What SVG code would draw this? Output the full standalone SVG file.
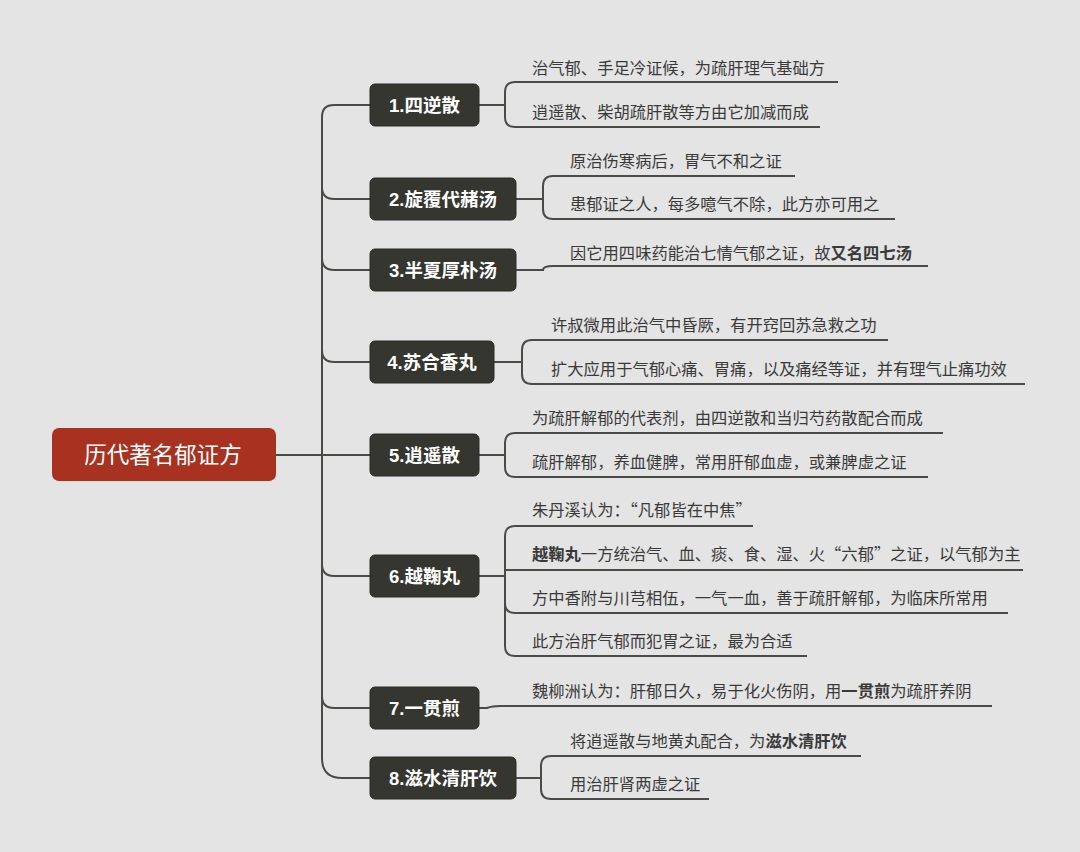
<svg xmlns="http://www.w3.org/2000/svg" width="1080" height="852" viewBox="0 0 1080 852">
<style>
.n{fill:#35362f;stroke:#2a2a25;stroke-width:1}
.nt{font-family:"Liberation Sans","Noto Sans CJK SC",sans-serif;font-weight:bold;font-size:18.5px;fill:#fff}
.lt{font-family:"Noto Sans CJK SC",sans-serif;font-size:16.3px;fill:#3a3a3a}
.c{fill:none;stroke:#4a4a46;stroke-width:2}
</style>
<rect width="1080" height="852" fill="#e4e4e4"/>
<g id="connectors" class="c">
<path d="M276 455H322"/>
<path d="M370 105H334Q322 105 322 117V758Q322 778 342 778H370"/>
<path d="M322 187Q322 199 334 199H370"/>
<path d="M322 258Q322 270 334 270H370"/>
<path d="M322 350Q322 362 334 362H370"/>
<path d="M322 455H370"/>
<path d="M322 564Q322 576 334 576H370"/>
<path d="M322 696Q322 708 334 708H370"/>
<path d="M479 105H505M838 82H515Q505 82 505 92V117Q505 127 515 127H820"/>
<path d="M516 199H543M795 176H553Q543 176 543 186V209Q543 219 553 219H895"/>
<path d="M516 270H543Q543 266 553 266H928"/>
<path d="M494 362H522M888 340H532Q522 340 522 350V374Q522 384 532 384H1025"/>
<path d="M479 455H505M943 433H515Q505 433 505 443V467Q505 477 515 477H928"/>
<path d="M479 576H505M753 526H515Q505 526 505 536V646Q505 656 515 656H807M505 570H1023M505 603Q505 613 515 613H1008"/>
<path d="M479 708H487Q492 706 500 706H992"/>
<path d="M516 778H541M861 756H551Q541 756 541 766V789Q541 799 551 799H709"/>
</g>
<g id="root"><rect x="52" y="428" width="224" height="53" rx="7" fill="#a8321f"/><text x="163" y="463" text-anchor="middle" font-family="Noto Sans CJK SC,sans-serif" font-size="22.5" fill="#fff">历代著名郁证方</text></g>
<g id="n1"><rect class="n" x="370" y="84" width="109" height="42" rx="5"/><text class="nt" x="424.5" y="112" text-anchor="middle">1.四逆散</text></g>
<g id="n2"><rect class="n" x="370" y="178" width="146" height="42" rx="5"/><text class="nt" x="443" y="206" text-anchor="middle">2.旋覆代赭汤</text></g>
<g id="n3"><rect class="n" x="370" y="249" width="146" height="42" rx="5"/><text class="nt" x="443" y="277" text-anchor="middle">3.半夏厚朴汤</text></g>
<g id="n4"><rect class="n" x="370" y="341" width="124" height="42" rx="5"/><text class="nt" x="432" y="369" text-anchor="middle">4.苏合香丸</text></g>
<g id="n5"><rect class="n" x="370" y="434" width="109" height="42" rx="5"/><text class="nt" x="424.5" y="462" text-anchor="middle">5.逍遥散</text></g>
<g id="n6"><rect class="n" x="370" y="555" width="109" height="42" rx="5"/><text class="nt" x="424.5" y="583" text-anchor="middle">6.越鞠丸</text></g>
<g id="n7"><rect class="n" x="370" y="687" width="109" height="42" rx="5"/><text class="nt" x="424.5" y="715" text-anchor="middle">7.一贯煎</text></g>
<g id="n8"><rect class="n" x="370" y="757" width="146" height="42" rx="5"/><text class="nt" x="443" y="785" text-anchor="middle">8.滋水清肝饮</text></g>
<g id="leaves" class="lt">
<text x="532" y="74">治气郁、手足冷证候，为疏肝理气基础方</text>
<text x="532" y="118">逍遥散、柴胡疏肝散等方由它加减而成</text>
<text x="570" y="167">原治伤寒病后，胃气不和之证</text>
<text x="570" y="210">患郁证之人，每多噫气不除，此方亦可用之</text>
<text x="570" y="259">因它用四味药能治七情气郁之证，故<tspan font-weight="bold">又名四七汤</tspan></text>
<text x="551" y="331">许叔微用此治气中昏厥，有开窍回苏急救之功</text>
<text x="551" y="375">扩大应用于气郁心痛、胃痛，以及痛经等证，并有理气止痛功效</text>
<text x="532" y="424">为疏肝解郁的代表剂，由四逆散和当归芍药散配合而成</text>
<text x="532" y="468">疏肝解郁，养血健脾，常用肝郁血虚，或兼脾虚之证</text>
<text x="532" y="516">朱丹溪认为：“凡郁皆在中焦”</text>
<text x="532" y="560"><tspan font-weight="bold">越鞠丸</tspan>一方统治气、血、痰、食、湿、火“六郁”之证，以气郁为主</text>
<text x="532" y="604">方中香附与川芎相伍，一气一血，善于疏肝解郁，为临床所常用</text>
<text x="532" y="647">此方治肝气郁而犯胃之证，最为合适</text>
<text x="532" y="697">魏柳洲认为：肝郁日久，易于化火伤阴，用<tspan font-weight="bold">一贯煎</tspan>为疏肝养阴</text>
<text x="570" y="747">将逍遥散与地黄丸配合，为<tspan font-weight="bold">滋水清肝饮</tspan></text>
<text x="570" y="790">用治肝肾两虚之证</text>
</g>
</svg>
